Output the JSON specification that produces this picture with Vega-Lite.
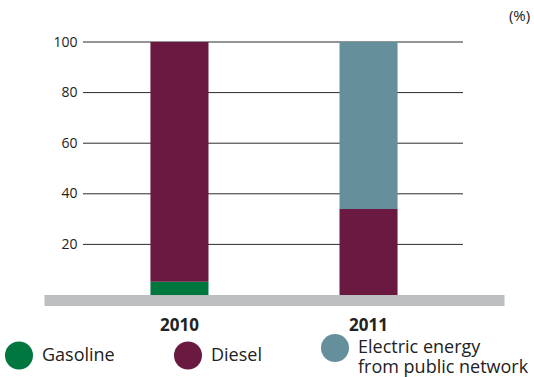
{
  "$schema": "https://vega.github.io/schema/vega-lite/v6.json",
  "autosize": {"type": "none"},
  "padding": {"left": 83, "top": 42, "right": 71, "bottom": 82},
  "width": 380,
  "height": 253,
  "background": "white",
  "config": {
    "view": {"stroke": null},
    "font": "Open Sans"
  },
  "layer": [
    {
      "data": {"values": [{"tick": 20}, {"tick": 40}, {"tick": 60}, {"tick": 80}, {"tick": 100}]},
      "mark": {"type": "rule", "color": "#2b2b2b", "strokeWidth": 1},
      "encoding": {
        "y": {"field": "tick", "type": "quantitative", "scale": {"domain": [0, 100]}}
      }
    },
    {
      "data": {"values": [
        {"year": "2010", "fuel": "Gasoline", "share": 5.2},
        {"year": "2010", "fuel": "Diesel", "share": 94.8},
        {"year": "2011", "fuel": "Diesel", "share": 34},
        {"year": "2011", "fuel": "Electric energy from public network", "share": 66}
      ]},
      "transform": [
        {"calculate": "indexof(['Gasoline', 'Diesel', 'Electric energy from public network'], datum.fuel)", "as": "stackOrder"}
      ],
      "mark": {"type": "bar"},
      "encoding": {
        "x": {
          "field": "year", "type": "nominal",
          "scale": {"range": [-39, 421], "paddingInner": 0.693, "paddingOuter": 0.563},
          "axis": {
            "title": null, "labelAngle": 0, "ticks": false, "tickSize": 0,
            "domainColor": "#bcbec0", "domainWidth": 11, "offset": 5,
            "labelFont": "Open Sans", "labelFontSize": 17, "labelFontWeight": "bold",
            "labelColor": "#222222", "labelPadding": 17
          }
        },
        "y": {
          "field": "share", "type": "quantitative", "stack": "zero",
          "scale": {"domain": [0, 100], "nice": false},
          "axis": {
            "values": [20, 40, 60, 80, 100], "grid": false, "domain": false, "ticks": false,
            "labelFont": "Open Sans", "labelFontSize": 14, "labelColor": "#222222", "labelPadding": 6,
            "title": "(%)", "titleAngle": 0, "titleX": 436, "titleY": -27, "titleAlign": "center",
            "titleBaseline": "middle", "titleFont": "Open Sans", "titleFontSize": 15,
            "titleFontWeight": "normal", "titleColor": "#222222"
          }
        },
        "order": {"field": "stackOrder", "type": "quantitative", "sort": "ascending"},
        "color": {
          "field": "fuel", "type": "nominal",
          "sort": ["Gasoline", "Diesel", "Electric energy from public network"],
          "scale": {
            "domain": ["Gasoline", "Diesel", "Electric energy from public network"],
            "range": ["#00773f", "#6a1a41", "#668f9c"]
          },
          "legend": {
            "orient": "none", "direction": "horizontal", "legendX": -78, "legendY": 292,
            "title": null, "symbolType": "circle", "symbolSize": 784, "symbolStrokeWidth": 0,
            "symbolOpacity": 1, "labelFont": "Open Sans", "labelFontSize": 18, "labelColor": "#222222",
            "labelOffset": 9, "columnPadding": 59, "labelLimit": 300,
            "labelExpr": "datum.label == 'Electric energy from public network' ? ['Electric energy', 'from public network'] : datum.label"
          }
        }
      }
    }
  ]
}
